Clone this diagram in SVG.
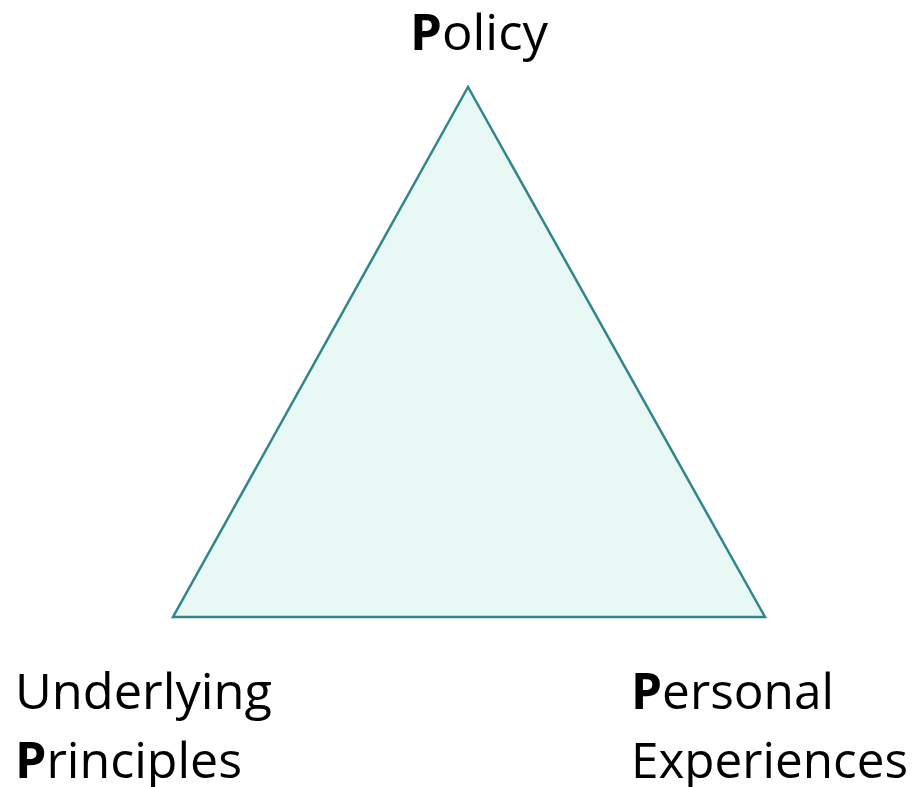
<svg xmlns="http://www.w3.org/2000/svg" width="917" height="787" viewBox="0 0 917 787">
<style>
.t{font-family:"Open Sans","Noto Sans","Liberation Sans",sans-serif;font-size:50px;fill:#000}
.b{font-weight:bold}
</style>
<rect width="917" height="787" fill="#fff"/>
<g id="triangle">
<polygon points="468,87 173,617 765,617" fill="#e8f8f4" stroke="#31858c" stroke-width="2.5" stroke-linejoin="miter"/>
</g>
<g id="policy">
<text class="t" x="410" y="50" textLength="138" lengthAdjust="spacingAndGlyphs"><tspan class="b">P</tspan>olicy</text>
</g>
<g id="underlying-principles">
<text class="t" x="15" y="709" textLength="257" lengthAdjust="spacingAndGlyphs">Underlying</text>
<text class="t" x="15" y="778" textLength="227" lengthAdjust="spacingAndGlyphs"><tspan class="b">P</tspan>rinciples</text>
</g>
<g id="personal-experiences">
<text class="t" x="631" y="709" textLength="203" lengthAdjust="spacingAndGlyphs"><tspan class="b">P</tspan>ersonal</text>
<text class="t" x="631" y="778" textLength="277" lengthAdjust="spacingAndGlyphs">Experiences</text>
</g>
<g id="connectors"></g>
</svg>
